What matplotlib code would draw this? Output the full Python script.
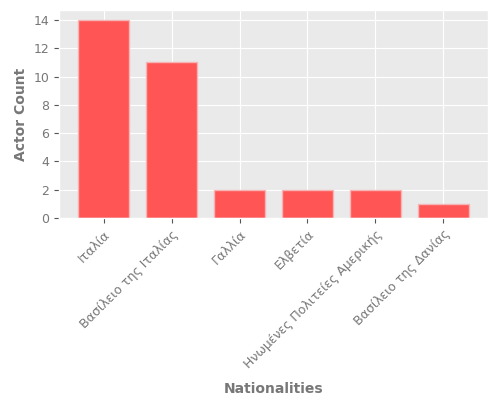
import matplotlib
matplotlib.use("Agg")
import matplotlib.pyplot as plt

nationalities = ["Ιταλία", "Βασίλειο της Ιταλίας", "Γαλλία", "Ελβετία",
                 "Ηνωμένες Πολιτείες Αμερικής", "Βασίλειο της Δανίας"]
counts = [14, 11, 2, 2, 2, 1]

plt.style.use("ggplot")
fig, ax = plt.subplots(figsize=(5, 4), dpi=100)
fig.subplots_adjust(left=0.118, right=0.976, top=0.975, bottom=0.455)
ax.set_facecolor("#EAEAEA")

x = range(len(nationalities))
ax.bar(x, counts, width=0.75, color="#FF5555", edgecolor="#F5B5B5", linewidth=1)
ax.set_xticks(list(x))
ax.set_xticklabels(nationalities, rotation=45, ha="right", rotation_mode="anchor",
                   color="#777777", fontsize=9)
ax.tick_params(axis="y", labelcolor="#777777", labelsize=9)
ax.set_yticks(range(0, 15, 2))
ax.set_ylim(0, 14.7)
ax.set_xlim(-0.66, 5.66)
ax.set_xlabel("Nationalities", fontweight="bold", color="#777777", fontsize=10, labelpad=8)
ax.set_ylabel("Actor Count", fontweight="bold", color="#777777", fontsize=10)

fig.savefig("out.png", dpi=100)
